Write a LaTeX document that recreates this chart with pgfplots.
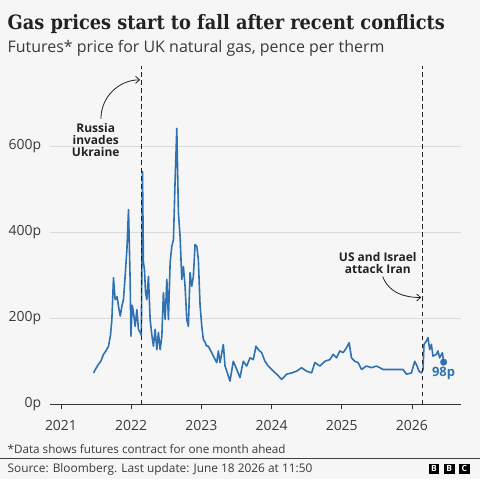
\documentclass[border=0pt]{standalone}
\usepackage{fontspec}
\setmainfont{Open Sans}
\newfontfamily\titlefont{DejaVu Serif Condensed}
\usepackage{pgfplots}
\pgfplotsset{compat=1.18}
\usetikzlibrary{arrows.meta}
\definecolor{bg}{HTML}{F6F6F6}
\definecolor{gasblue}{HTML}{2F72B3}
\definecolor{txt}{HTML}{222222}
\definecolor{txtb}{HTML}{3A3A3A}
\pgfplotstableread{
x y
2021.464 73
2021.500 84
2021.535 93
2021.570 101
2021.606 116
2021.640 124
2021.677 135
2021.705 160
2021.725 197
2021.748 294
2021.772 243
2021.800 250
2021.819 228
2021.844 205
2021.870 230
2021.890 243
2021.915 300
2021.939 359
2021.962 452
2021.986 283
2021.996 158
2022.015 230
2022.033 213
2022.057 181
2022.081 220
2022.104 174
2022.128 167
2022.145 160
2022.161 541
2022.175 329
2022.189 313
2022.205 260
2022.223 243
2022.246 297
2022.270 197
2022.295 160
2022.317 135
2022.341 174
2022.366 127
2022.388 167
2022.413 127
2022.437 158
2022.459 259
2022.484 197
2022.508 290
2022.531 197
2022.555 329
2022.579 367
2022.602 382
2022.626 521
2022.650 641
2022.673 445
2022.697 390
2022.721 290
2022.744 320
2022.768 274
2022.792 197
2022.815 181
2022.839 306
2022.863 274
2022.886 297
2022.910 371
2022.935 367
2022.957 336
2022.981 232
2023.006 181
2023.028 151
2023.053 144
2023.077 135
2023.100 135
2023.124 127
2023.148 120
2023.171 112
2023.195 104
2023.219 97
2023.242 124
2023.266 97
2023.313 139
2023.337 89
2023.384 66
2023.408 54
2023.455 100
2023.504 81
2023.550 62
2023.597 100
2023.646 89
2023.693 108
2023.740 104
2023.778 135
2023.811 127
2023.859 120
2023.906 100
2023.953 89
2024.001 81
2024.073 70
2024.144 58
2024.215 70
2024.286 73
2024.357 77
2024.428 85
2024.499 77
2024.570 73
2024.617 97
2024.688 89
2024.760 100
2024.831 104
2024.878 116
2024.926 108
2024.973 124
2025.020 120
2025.068 131
2025.105 143
2025.139 108
2025.186 100
2025.233 97
2025.282 81
2025.353 89
2025.424 85
2025.495 89
2025.589 81
2025.684 81
2025.780 81
2025.873 81
2025.922 70
2025.993 73
2026.040 100
2026.073 89
2026.101 77
2026.135 73
2026.158 81
2026.172 139
2026.206 147
2026.229 155
2026.253 127
2026.277 139
2026.300 112
2026.349 116
2026.371 124
2026.395 108
2026.434 120
2026.452 98
}\gasdata
\begin{document}
\begin{tikzpicture}
\begin{scope}[x=1pt,y=1pt]
\fill[bg] (0,0) rectangle (480,480);
\node[anchor=base west, inner sep=0, text=txt] at (7,450)
  {\titlefont\bfseries\fontsize{19.8}{22}\selectfont Gas prices start to fall after recent conflicts};
\node[anchor=base west, inner sep=0, text=txtb] at (7,427.7)
  {\fontsize{16}{18}\selectfont Futures* price for UK natural gas, pence per therm};
\end{scope}
\begin{axis}[
  at={(50pt,75pt)}, anchor=south west, scale only axis,
  width=411pt, height=339pt,
  xmin=2020.848, xmax=2026.694, ymin=0, ymax=786,
  clip=false,
  axis x line*=bottom, axis y line*=left,
  y axis line style={draw=none},
  x axis line style={draw=black!80, line width=1pt, -},
  ytick={0,200,400,600}, yticklabels={0p,200p,400p,600p},
  ytick style={draw=none},
  ymajorgrids, grid style={black!14, line width=0.8pt},
  xtick={2021,2022,2023,2024,2025,2026},
  xticklabels={2021,2022,2023,2024,2025,2026},
  xtick style={draw=black!80, line width=0.8pt},
  tick align=outside, major tick length=5pt,
  xticklabel style={font=\fontsize{14}{14}\selectfont, text=txtb, anchor=north, inner sep=0pt, yshift=-11pt},
  yticklabel style={font=\fontsize{14}{14}\selectfont, text=txtb, anchor=east, inner sep=0pt, xshift=-4pt},
]
\addplot[gasblue, line width=1.6pt, line join=round] table[x=x,y=y] {\gasdata};
\addplot[only marks, mark=*, mark size=3.3pt, gasblue] coordinates {(2026.452,98)};
\draw[txt, line width=1.3pt, dash pattern=on 4.5pt off 3.5pt] (axis cs:2022.148,0) -- (axis cs:2022.148,786);
\draw[txt, line width=1.3pt, dash pattern=on 4.5pt off 3.5pt] (axis cs:2026.155,0) -- (axis cs:2026.155,786);
\node[text=gasblue, font=\bfseries\fontsize{13}{13}\selectfont, anchor=center] at (axis cs:2026.45,73) {98p};
\end{axis}
\begin{scope}[x=1pt,y=1pt]
\node[align=center, text=txt, font=\bfseries\fontsize{12}{12}\selectfont, inner sep=0] at (95.5,340) {Russia\\invades\\Ukraine};
\draw[txt, line width=0.8pt, -{Straight Barb[length=4pt, width=7pt]}] (100.7,361) to[out=90, in=180] (140,400);
\node[align=center, text=txt, font=\bfseries\fontsize{12}{12}\selectfont, inner sep=0] at (378,217) {US and Israel\\attack Iran};
\draw[txt, line width=0.8pt, -{Straight Barb[length=4pt, width=7pt]}] (383,203) to[out=-70, in=180] (421.5,182);
\node[anchor=base west, inner sep=0, text=txtb, font=\fontsize{11.7}{14}\selectfont] at (7,25.7) {*Data shows futures contract for one month ahead};
\draw[black!75, line width=0.8pt] (0,21) -- (480,21);
\node[anchor=base west, inner sep=0, text=txtb, font=\fontsize{11.9}{14}\selectfont] at (7,6.7) {Source: Bloomberg. Last update: June 18 2026 at 11:50};
\foreach \xx/\ll in {429/B,444.3/B,459.3/C}{
  \fill[black] (\xx,5) rectangle ++(10.6,10.6);
  \node[text=white, font=\bfseries\fontsize{8.5}{8.5}\selectfont, inner sep=0] at (\xx+5.3,10.3) {\ll};
}
\end{scope}
\end{tikzpicture}
\end{document}
